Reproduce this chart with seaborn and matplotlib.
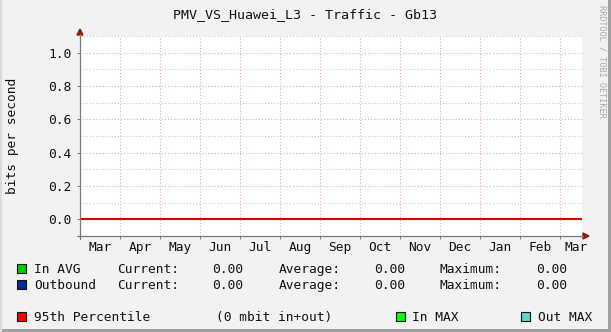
import matplotlib
matplotlib.use('Agg')
import matplotlib.pyplot as plt
from matplotlib.patches import Rectangle, Polygon
from matplotlib.lines import Line2D
import numpy as np
import pandas as pd
import seaborn as sns

# ---------------- data ----------------
title = "PMV_VS_Huawei_L3 - Traffic - Gb13"
y_label = "bits per second"
watermark = "RRDTOOL / TOBI OETIKER"
month_labels = ['Mar', 'Apr', 'May', 'Jun', 'Jul', 'Aug', 'Sep',
                'Oct', 'Nov', 'Dec', 'Jan', 'Feb', 'Mar']
y_ticks = [0.0, 0.2, 0.4, 0.6, 0.8, 1.0]
y_minor = [0.1, 0.3, 0.5, 0.7, 0.9, 1.1]
in_avg = [0.0, 0.0, 0.0, 0.0, 0.0, 0.0, 0.0, 0.0, 0.0, 0.0, 0.0, 0.0, 0.0]
out_avg = [0.0, 0.0, 0.0, 0.0, 0.0, 0.0, 0.0, 0.0, 0.0, 0.0, 0.0, 0.0, 0.0]
percentile_95 = 0.0
in_stats = [0.00, 0.00, 0.00]    # current, average, maximum
out_stats = [0.00, 0.00, 0.00]
percentile_text = "(0 mbit in+out)"
series_names = ['In AVG', 'Outbound', '95th Percentile', 'In MAX', 'Out MAX']
series_colors = ['#00CC00', '#002A97', '#FF0000', '#00FF00', '#55D6D3']

# ---------------- style ----------------
sns.set_theme(style='white')
plt.rcParams['font.family'] = ['DejaVu Sans Mono']
plt.rcParams['font.size'] = 9.3

W, H = 611, 332
def fx(x):
    return x / W
def fy(y):
    return 1 - y / H

BG = '#F2F2F2'
AXC = '#7A7A7A'
TXT = '#111111'
fig = plt.figure(figsize=(W / 100, H / 100), dpi=100, facecolor=BG)
ax = fig.add_axes([fx(80), fy(236), 502 / W, 200 / H])
ax.set_facecolor('white')

# data lines
df = pd.DataFrame({'month': np.arange(len(month_labels)), 'in': in_avg, 'out': out_avg})
sns.lineplot(data=df, x='month', y='in', color=series_colors[0], lw=0.6, ax=ax, zorder=2)
sns.lineplot(data=df, x='month', y='out', color=series_colors[1], lw=0.6, ax=ax, zorder=2)
ax.axhline(percentile_95, color='#D80000', lw=1.5, zorder=4)

ax.set_xlim(0, 12.55)
ax.set_ylim(-0.1, 1.1)
ax.set_xlabel('')
ax.set_ylabel('')
for s in ax.spines.values():
    s.set_visible(False)

# grid
red_grid = '#F2A0A0'
gray_grid = '#C8C8C8'
dot = (0, (1, 2))
for v in y_minor:
    ax.axhline(v, color=gray_grid, ls=dot, lw=0.75, zorder=1, clip_on=False)
for v in y_ticks:
    ax.axhline(v, color=red_grid, ls=dot, lw=0.75, zorder=1)
for k in range(1, len(month_labels)):
    ax.axvline(k, color=red_grid, ls=dot, lw=0.75, zorder=1)

# ticks
ax.set_yticks(y_ticks)
ax.set_yticklabels([f"{v:.1f}" for v in y_ticks])
ax.tick_params(axis='y', length=2, width=0.75, color=AXC, pad=4.2,
               labelsize=9.3, labelcolor=TXT, left=True)
ax.set_xticks(np.arange(len(month_labels)))
ax.set_xticklabels([])
label_pos = [i + 0.5 for i in range(len(month_labels) - 1)] + [len(month_labels) - 1 + 0.4]
ax.set_xticks(label_pos, minor=True)
ax.set_xticklabels(month_labels, minor=True)
ax.tick_params(axis='x', which='major', length=2, width=0.75, color=AXC, bottom=True)
ax.tick_params(axis='x', which='minor', length=0, pad=3.6, labelsize=9.3,
               labelcolor=TXT, bottom=True)

# axis lines + arrows
fig.add_artist(Line2D([fx(77), fx(583)], [fy(236), fy(236)], color=AXC, lw=0.9))
fig.add_artist(Line2D([fx(80), fx(80)], [fy(239), fy(34)], color=AXC, lw=0.9))
arrow_c = '#931515'
fig.add_artist(Polygon([[fx(583), fy(233)], [fx(589), fy(236)], [fx(583), fy(239)]],
                       closed=True, color=arrow_c, transform=fig.transFigure))
fig.add_artist(Polygon([[fx(77), fy(35)], [fx(80), fy(29)], [fx(83), fy(35)]],
                       closed=True, color=arrow_c, transform=fig.transFigure))

# title, ylabel, watermark
fig.text(fx(305), fy(18.5), title, ha='center', va='baseline', fontsize=9.6, color=TXT)
fig.text(fx(12.5), fy(136), y_label, ha='center', va='center', rotation=90,
         fontsize=9.3, color=TXT)
fig.text(fx(602), fy(5), watermark, ha='center', va='top', rotation=270,
         fontsize=6.1, color='#A8A8A8')

# legend
def square(x, ytop, color):
    fig.add_artist(Rectangle((fx(x), fy(ytop + 9)), 9 / W, 9 / H, facecolor=color,
                             edgecolor='#101010', lw=0.8, transform=fig.transFigure))

def txt(x, base, s):
    fig.text(fx(x), fy(base), s, ha='left', va='baseline', fontsize=9.3, color=TXT)

rows = [(series_names[0], series_colors[0], in_stats, 273, 264),
        (series_names[1], series_colors[1], out_stats, 289, 280)]
for name, col, stats, base, top in rows:
    square(17, top, col)
    txt(34, base, name)
    txt(117, base, 'Current:')
    txt(212, base, f"{stats[0]:.2f}")
    txt(279, base, 'Average:')
    txt(374, base, f"{stats[1]:.2f}")
    txt(440, base, 'Maximum:')
    txt(536, base, f"{stats[2]:.2f}")

square(17, 311.5, series_colors[2])
txt(34, 321, series_names[2])
txt(216, 321, percentile_text)
square(396, 311.5, series_colors[3])
txt(412, 321, series_names[3])
square(521, 311.5, series_colors[4])
txt(538, 321, series_names[4])

# frame borders
fig.add_artist(Rectangle((fx(608), 0), 3 / W, 1, facecolor='#A0A0A0', lw=0,
                         transform=fig.transFigure))
fig.add_artist(Rectangle((0, 0), 1, 3 / H, facecolor='#A0A0A0', lw=0,
                         transform=fig.transFigure))
fig.add_artist(Rectangle((0, 0), 2 / W, 1, facecolor='#DADADA', lw=0,
                         transform=fig.transFigure))

fig.savefig('out.png', dpi=100, facecolor=BG)
